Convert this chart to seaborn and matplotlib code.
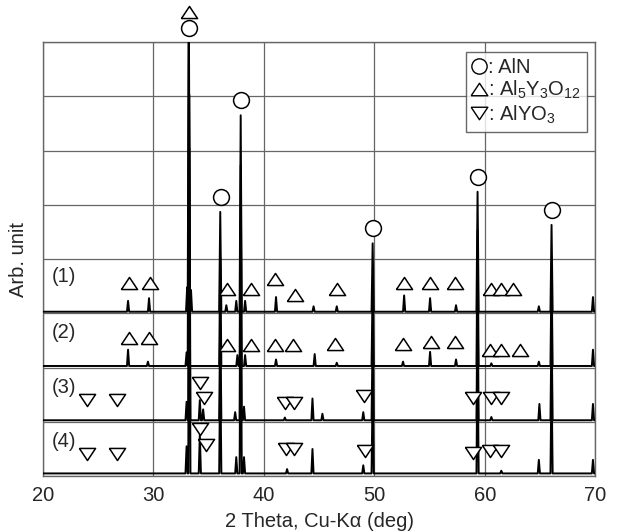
import numpy as np
import pandas as pd
import matplotlib.pyplot as plt
from matplotlib.lines import Line2D
import seaborn as sns

# XRD patterns: peak position (2 theta) and peak height
# above each pattern's own baseline (one band = 1 unit)
samples = ['(1)', '(2)', '(3)', '(4)']
baselines = [3.03, 2.03, 1.03, 0.05]

pos_1 = [27.7, 29.6, 33.05, 33.2, 33.4, 36.05, 36.6, 37.5, 37.9, 38.3, 41.1, 44.5, 46.6,
         49.85, 52.7, 55.05, 57.4, 59.35, 64.9, 66.05, 69.8]
hgt_1 = [0.2, 0.25, 0.45, 6.0, 0.4, 1.84, 0.12, 0.2, 3.62, 0.2, 0.27, 0.1, 0.1,
         1.26, 0.3, 0.25, 0.12, 2.21, 0.1, 1.6, 0.27]

pos_2 = [27.7, 29.5, 33.0, 33.2, 36.05, 37.6, 37.9, 38.3, 41.1, 44.6, 46.6,
         49.85, 52.6, 55.05, 57.4, 59.35, 60.6, 64.9, 66.05, 69.8]
hgt_2 = [0.3, 0.08, 0.25, 6.0, 2.0, 0.2, 3.7, 0.2, 0.12, 0.22, 0.06,
         1.5, 0.08, 0.26, 0.12, 2.5, 0.05, 0.08, 1.8, 0.3]

pos_3 = [33.0, 33.25, 34.2, 34.5, 36.05, 37.4, 37.9, 38.2, 41.9, 44.4, 45.3,
         49.0, 49.85, 59.35, 60.6, 64.95, 66.05, 69.8]
hgt_3 = [0.34, 6.0, 0.37, 0.2, 2.0, 0.15, 3.7, 0.25, 0.05, 0.4, 0.12,
         0.15, 1.6, 2.5, 0.06, 0.3, 1.8, 0.3]

pos_4 = [33.0, 33.25, 34.2, 36.05, 37.5, 37.9, 38.2, 42.1, 44.4, 49.0, 49.85,
         59.35, 61.5, 64.9, 66.05, 69.8]
hgt_4 = [0.5, 6.0, 0.72, 2.0, 0.3, 3.7, 0.3, 0.08, 0.45, 0.15, 1.6,
         2.5, 0.05, 0.25, 1.8, 0.25]

peak_pos = [pos_1, pos_2, pos_3, pos_4]
peak_hgt = [hgt_1, hgt_2, hgt_3, hgt_4]

# phase markers (2 theta, vertical level)
aln_x = [33.2, 36.1, 37.9, 49.9, 59.4, 66.1]
aln_y = [8.26, 5.14, 6.93, 4.57, 5.51, 4.90]

yag_x = [33.2, 27.8, 29.7, 36.7, 38.8, 41.0, 42.8, 46.6, 52.7, 55.05, 57.3, 60.6, 61.5, 62.6,
         27.8, 29.6, 36.7, 38.8, 41.0, 42.6, 46.4, 52.6, 55.1, 57.3, 60.5, 61.5, 63.2]
yag_y = [8.55, 3.56, 3.56, 3.45, 3.45, 3.63, 3.34, 3.45, 3.56, 3.56, 3.56, 3.45, 3.45, 3.45,
         2.54, 2.54, 2.41, 2.41, 2.41, 2.41, 2.43, 2.43, 2.47, 2.47, 2.32, 2.32, 2.32]

yap_x = [24.0, 26.7, 34.2, 34.6, 41.9, 42.7, 49.1, 58.9, 60.6, 61.5,
         24.0, 26.7, 34.2, 34.8, 42.0, 42.7, 49.2, 58.9, 60.5, 61.5]
yap_y = [1.40, 1.40, 1.71, 1.44, 1.35, 1.35, 1.47, 1.44, 1.44, 1.44,
         0.41, 0.41, 0.87, 0.57, 0.50, 0.50, 0.46, 0.42, 0.46, 0.46]

label_y = [3.67, 2.65, 1.64, 0.63]

sns.set_style('white')
plt.rcParams['font.family'] = ['Liberation Sans', 'DejaVu Sans']
plt.rcParams['mathtext.fontset'] = 'custom'
plt.rcParams['mathtext.rm'] = 'Liberation Sans'
plt.rcParams['mathtext.it'] = 'Liberation Sans:italic'

fig = plt.figure(figsize=(6.19, 5.32), dpi=100)
ax = fig.add_axes([0.0695, 0.105, 0.892, 0.816])

# build each pattern as sharp peaks on its baseline
w = 0.1
for name, base, pos, hgt in zip(samples, baselines, peak_pos, peak_hgt):
    xs, ys = [20.0], [base]
    for p, h in sorted(zip(pos, hgt)):
        xs += [p - w, p, p + w]
        ys += [base, base + h, base]
    xs.append(70.0)
    ys.append(base)
    trace = pd.DataFrame({'theta': xs, 'intensity': ys})
    sns.lineplot(data=trace, x='theta', y='intensity', sort=False, estimator=None,
                 color='black', lw=1.4, ax=ax, zorder=3)

for name, ly in zip(samples, label_y):
    ax.text(20.8, ly, name, fontsize=14.5, ha='left', va='center', zorder=5)

# phase markers
tri_up = [(-1, -0.75), (1, -0.75), (0, 0.75), (-1, -0.75)]
tri_dn = [(-1, 0.75), (1, 0.75), (0, -0.75), (-1, 0.75)]
sns.scatterplot(x=aln_x, y=aln_y, marker='o', s=130, facecolor='white', edgecolor='black',
                linewidth=1.1, clip_on=False, zorder=6, ax=ax)
sns.scatterplot(x=yag_x, y=yag_y, marker=tri_up, s=135, facecolor='white', edgecolor='black',
                linewidth=1.1, clip_on=False, zorder=6, ax=ax)
sns.scatterplot(x=yap_x, y=yap_y, marker=tri_dn, s=135, facecolor='white', edgecolor='black',
                linewidth=1.1, clip_on=False, zorder=6, ax=ax)

ax.set_xlim(20, 70)
ax.set_ylim(0, 8)
ax.set_xticks([20, 30, 40, 50, 60, 70])
ax.set_yticks(range(9))
ax.set_yticklabels([])
ax.tick_params(axis='both', length=0, labelsize=14.5, pad=7)
ax.grid(True, color='#666666', lw=0.9)
ax.set_axisbelow(True)
for sp in ax.spines.values():
    sp.set_color('#666666')
    sp.set_linewidth(1.0)

ax.set_xlabel('2 Theta, Cu-Kα (deg)', fontsize=14.5, labelpad=5)
ax.set_ylabel('Arb. unit', fontsize=14.5, labelpad=4)

handles = [
    Line2D([], [], ls='none', marker='o', ms=11, mfc='white', mec='black', mew=1.0),
    Line2D([], [], ls='none', marker=tri_up, ms=12, mfc='white', mec='black', mew=1.0),
    Line2D([], [], ls='none', marker=tri_dn, ms=12, mfc='white', mec='black', mew=1.0),
]
labels = [': AlN', ': Al$_5$Y$_3$O$_{12}$', ': AlYO$_3$']
leg = ax.legend(handles, labels, loc='upper right', bbox_to_anchor=(0.985, 0.977),
                borderaxespad=0, fontsize=14.5, handlelength=0.7, handletextpad=0.1,
                labelspacing=0.1, borderpad=0.3, frameon=True, fancybox=False)
leg.get_frame().set_edgecolor('#444444')
leg.get_frame().set_linewidth(1.0)
leg.set_zorder(7)

fig.savefig('out.png', dpi=100)
